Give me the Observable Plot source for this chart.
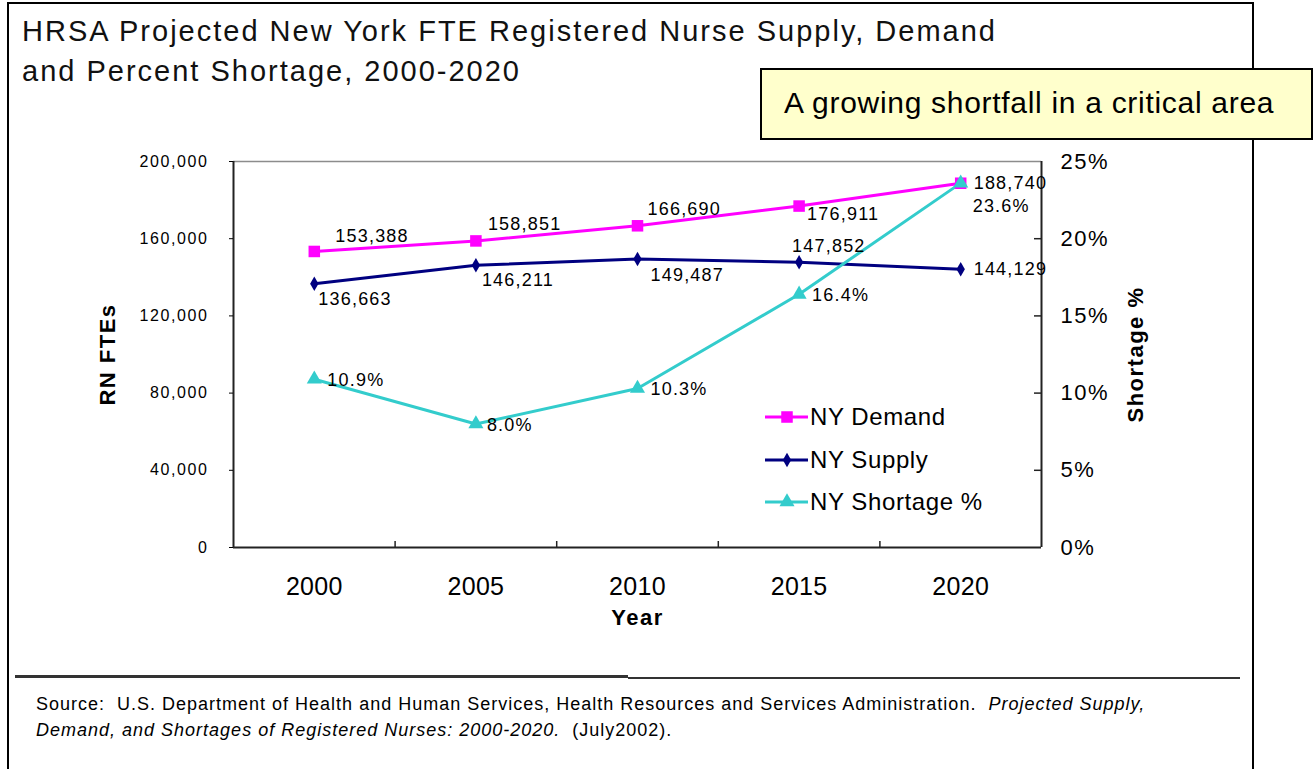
<!DOCTYPE html>
<html>
<head>
<meta charset="utf-8">
<script src="https://cdn.jsdelivr.net/npm/d3@7"></script>
<script src="https://cdn.jsdelivr.net/npm/@observablehq/plot@0.6"></script>
<style>
  html, body { margin: 0; padding: 0; background: #fff; }
  body { width: 1315px; height: 769px; position: relative; overflow: hidden;
         font-family: Arial, "Liberation Sans", Helvetica, sans-serif; color: #000; }
  .abs { position: absolute; }
  #frame { left: 7px; top: 2px; width: 1243px; height: 820px; border: 2px solid #000; border-bottom: none; }
  #title { left: 22px; top: 11px; font-size: 29px; line-height: 40px; color: #111; white-space: nowrap; letter-spacing: 2px; }
  #callout { left: 760px; top: 68px; width: 553px; height: 72px; box-sizing: border-box;
             border: 2px solid #000; background: #ffffcc; font-size: 30px; line-height: 66px;
             padding-left: 22px; white-space: nowrap; letter-spacing: 0.7px; }
  #sep1 { left: 15px; top: 675px; width: 613px; height: 3px; background: #333; }
  #sep2 { left: 628px; top: 677px; width: 612px; height: 2px; background: #333; }
  #source { left: 36px; top: 691px; font-size: 18px; line-height: 26px; white-space: nowrap; letter-spacing: 1px; }
  #legend { left: 765px; top: 395px; }
  .leg { position: absolute; left: 0; height: 30px; white-space: nowrap; font-size: 24px; }
  .leg svg { position: absolute; left: 0; top: 0; }
  .leg span { position: absolute; left: 45px; top: 0; line-height: 30px; letter-spacing: 0.6px; }
</style>
</head>
<body>
<div id="chart" class="abs" style="left:0;top:140px"></div>
<div id="frame" class="abs"></div>
<div id="title" class="abs">HRSA Projected New York FTE Registered Nurse Supply, Demand<br>and Percent Shortage, 2000-2020</div>
<div id="callout" class="abs">A growing shortfall in a critical area</div>
<div id="legend" class="abs"></div>
<div id="sep1" class="abs"></div>
<div id="sep2" class="abs"></div>
<div id="source" class="abs">Source:&nbsp; U.S. Department of Health and Human Services, Health Resources and Services Administration.&nbsp; <i>Projected Supply,</i><br><i>Demand, and Shortages of Registered Nurses: 2000-2020.</i>&nbsp; (July2002).</div>
<script>
// ---- data ----
const years = [2000, 2005, 2010, 2015, 2020];
const demand = [153388, 158851, 166690, 176911, 188740];
const supply = [136663, 146211, 149487, 147852, 144129];
const shortagePct = [10.9, 8.0, 10.3, 16.4, 23.6];
const leftTicks = [0, 40000, 80000, 120000, 160000, 200000];
const rightTicks = [0, 5, 10, 15, 20, 25];
const seriesNames = ["NY Demand", "NY Supply", "NY Shortage %"];

// ---- layout / style ----
const colors = {demand: "#ff00ff", supply: "#000080", shortage: "#33cccc"};
const yMax = 200000, pctMax = 25;
const pctScale = yMax / pctMax;           // maps % onto the left axis domain
const xDomain = [1997.5, 2022.5];          // category bands centred on the years
const bandEdges = [2002.5, 2007.5, 2012.5, 2017.5];
const labelOffsets = {
  demand:   {dx: [21, 12, 10, 8, 13],  dy: [-15, -17, -17, 8, 0]},
  supply:   {dx: [4, 6, 13, -7, 13],   dy: [15, 15, 16, -16, 0]},
  shortage: {dx: [13, 11, 13, 13, 12], dy: [1, 1, 1, 1, 23]}
};

const rows = years.map((yr, i) => ({i, year: yr, demand: demand[i], supply: supply[i], shortage: shortagePct[i]}));
const fmt = d3.format(",");

const svgH = 520;
const mTop = 21, mBottom = svgH - 407, mLeft = 233, mRight = 1315 - 1041;
const plotH = svgH - mTop - mBottom;
const plotW = 1315 - mLeft - mRight;

function labels(key, textFn, yFn) {
  return rows.map((d, i) => Plot.text([d], {
    x: "year", y: yFn, text: textFn,
    dx: labelOffsets[key].dx[i], dy: labelOffsets[key].dy[i],
    textAnchor: "start", fontSize: 18, fill: "#000"
  }));
}

const chart = Plot.plot({
  width: 1315,
  height: svgH,
  marginTop: mTop, marginBottom: mBottom, marginLeft: mLeft, marginRight: mRight,
  x: {type: "linear", domain: xDomain, label: null, axis: null},
  y: {domain: [0, yMax], label: null, axis: null},
  style: {fontFamily: "Arial, 'Liberation Sans', sans-serif", color: "#000", background: "transparent", overflow: "visible"},
  marks: [
    // frame
    Plot.ruleY([yMax], {stroke: "#8c8c8c", strokeWidth: 1.5}),
    Plot.ruleX(xDomain, {stroke: "#222", strokeWidth: 2}),
    Plot.ruleY([0], {stroke: "#222", strokeWidth: 2}),
    // category separators on the x axis (short, inward)
    Plot.tickX(bandEdges, {x: d => d, insetTop: plotH - 6, stroke: "#222", strokeWidth: 1.5}),
    // right-axis inward ticks
    Plot.tickY(rightTicks.slice(1, -1).map(p => p * pctScale), {y: d => d, insetLeft: plotW - 7, stroke: "#222", strokeWidth: 1.5}),
    // axes
    Plot.axisY({ticks: leftTicks, tickSize: 4, tickPadding: 21, tickFormat: fmt, fontSize: 16}),
    Plot.axisY({anchor: "right", ticks: rightTicks.map(p => p * pctScale), tickSize: 0, tickPadding: 19,
                tickFormat: d => Math.round(d / pctScale) + "%", fontSize: 22}),
    Plot.axisX({ticks: years, tickSize: 0, tickPadding: 30, tickFormat: d => String(d), fontSize: 25}),
    // axis titles
    Plot.text(["Year"], {text: d => d, frameAnchor: "bottom", lineAnchor: "middle", dy: 70, fontSize: 22, fontWeight: "bold"}),
    Plot.text(["RN FTEs"], {text: d => d, frameAnchor: "left", textAnchor: "middle", dx: -126, rotate: -90, fontSize: 22, fontWeight: "bold"}),
    Plot.text(["Shortage %"], {text: d => d, frameAnchor: "right", textAnchor: "middle", dx: 94, rotate: -90, fontSize: 22, fontWeight: "bold"}),
    // series
    Plot.line(rows, {x: "year", y: "demand", stroke: colors.demand, strokeWidth: 3}),
    Plot.line(rows, {x: "year", y: "supply", stroke: colors.supply, strokeWidth: 3}),
    Plot.line(rows, {x: "year", y: d => d.shortage * pctScale, stroke: colors.shortage, strokeWidth: 3}),
    Plot.dot(rows, {x: "year", y: "demand", symbol: "square", r: 6.5, fill: colors.demand, stroke: "none"}),
    Plot.dot(rows, {x: "year", y: "supply", symbol: "diamond", r: 4.4, fill: colors.supply, stroke: "none"}),
    Plot.dot(rows, {x: "year", y: d => d.shortage * pctScale, symbol: "triangle", r: 5.6, fill: colors.shortage, stroke: "none"}),
    // data labels
    ...labels("demand", d => fmt(d.demand), "demand"),
    ...labels("supply", d => fmt(d.supply), "supply"),
    ...labels("shortage", d => d.shortage.toFixed(1) + "%", d => d.shortage * pctScale)
  ]
});
const sel = d3.select(chart);
sel.selectAll("text").style("letter-spacing", "1.2px");
sel.selectAll('g[font-size="16"] text').style("letter-spacing", "1.6px");
sel.selectAll('g[font-size="22"] text').style("letter-spacing", "1.5px");
sel.selectAll('g[font-size="25"] text').style("letter-spacing", "0.3px");
document.getElementById("chart").appendChild(chart);

// legend (HTML overlay)
const legend = d3.select("#legend");
const legSymbols = [d3.symbolSquare, d3.symbolDiamond, d3.symbolTriangle];
const legSizes = [Math.PI * 6.5 * 6.5, Math.PI * 4.4 * 4.4, Math.PI * 5.6 * 5.6];
const legColors = [colors.demand, colors.supply, colors.shortage];
const legTops = [7, 50, 92];
seriesNames.forEach((name, i) => {
  const item = legend.append("div").attr("class", "leg").style("top", legTops[i] + "px");
  const svg = item.append("svg").attr("width", 44).attr("height", 30);
  svg.append("line").attr("x1", 0).attr("x2", 43).attr("y1", 15).attr("y2", 15)
     .attr("stroke", legColors[i]).attr("stroke-width", 3);
  svg.append("path").attr("transform", "translate(22,15)")
     .attr("d", d3.symbol(legSymbols[i], legSizes[i])()).attr("fill", legColors[i]);
  item.append("span").text(name);
});
</script>
</body>
</html>
